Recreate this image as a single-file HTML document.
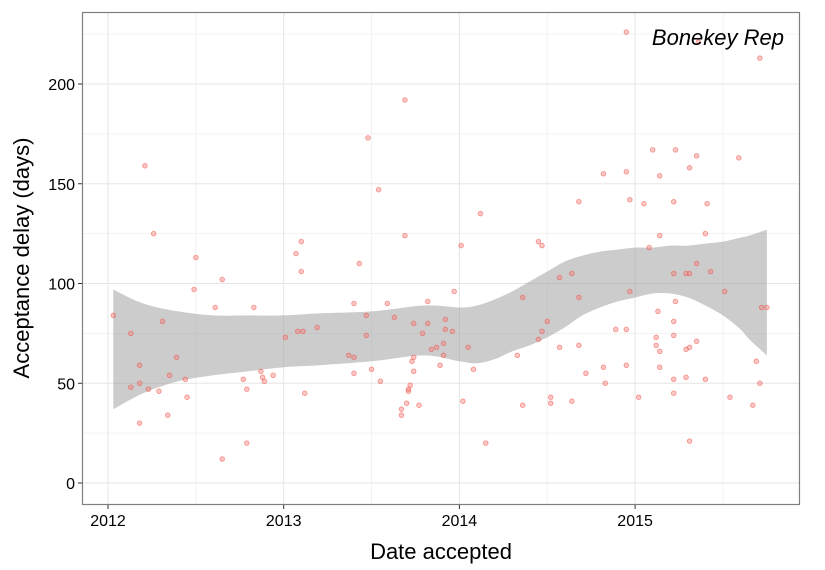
<!DOCTYPE html>
<html><head><meta charset="utf-8"><style>
body{margin:0;background:#fff;width:825px;height:570px;overflow:hidden}
svg{display:block;font-family:"Liberation Sans",sans-serif}
</style></head><body>
<svg id="chart" width="825" height="570"></svg>
<script>
const xTicks=[2012,2013,2014,2015];
const yTicks=[0,50,100,150,200];
const ptYear=[2012.03,2012.13,2012.13,2012.18,2012.18,2012.18,2012.21,2012.23,2012.26,2012.29,2012.31,2012.35,2012.39,2012.34,2012.44,2012.45,2012.50,2012.49,2012.61,2012.65,2012.65,2012.77,2012.79,2012.79,2012.83,2012.87,2012.88,2012.89,2012.94,2013.01,2013.08,2013.07,2013.10,2013.10,2013.11,2013.19,2013.12,2013.37,2013.40,2013.40,2013.40,2013.43,2013.47,2013.47,2013.48,2013.50,2013.54,2013.55,2013.59,2013.63,2013.67,2013.67,2013.69,2013.69,2013.70,2013.73,2013.71,2013.71,2013.72,2013.74,2013.74,2013.74,2013.77,2013.79,2013.82,2013.82,2013.84,2013.87,2013.89,2013.91,2013.91,2013.92,2013.92,2013.96,2013.97,2014.01,2014.05,2014.08,2014.02,2014.12,2014.15,2014.33,2014.36,2014.36,2014.45,2014.47,2014.45,2014.47,2014.50,2014.52,2014.52,2014.57,2014.57,2014.64,2014.64,2014.68,2014.68,2014.68,2014.72,2014.82,2014.82,2014.83,2014.89,2014.95,2014.95,2014.95,2014.95,2014.97,2014.97,2015.02,2015.05,2015.08,2015.10,2015.12,2015.13,2015.12,2015.14,2015.14,2015.14,2015.14,2015.22,2015.22,2015.22,2015.22,2015.22,2015.22,2015.23,2015.23,2015.29,2015.31,2015.29,2015.31,2015.29,2015.31,2015.31,2015.35,2015.35,2015.35,2015.40,2015.40,2015.41,2015.43,2015.51,2015.54,2015.59,2015.67,2015.69,2015.71,2015.71,2015.72,2015.75,2015.36];
const ptDays=[84,75,48,59,50,30,159,47,125,46,81,54,63,34,52,43,113,97,88,102,12,52,47,20,88,56,53,51,54,73,76,115,121,106,76,78,45,64,63,55,90,110,74,84,173,57,147,51,90,83,37,34,124,192,40,61,47,46,49,56,80,63,39,75,91,80,67,68,59,64,70,77,82,76,96,119,68,57,41,135,20,64,93,39,121,119,72,76,81,43,40,103,68,105,41,93,69,141,55,155,58,50,77,226,156,77,59,142,96,43,140,118,167,69,86,73,154,124,66,58,141,105,81,74,52,45,167,91,105,105,67,68,53,158,21,164,110,71,125,52,140,106,96,43,163,39,61,213,50,88,88,221];
const bandYear=[2012.03,2012.2,2012.4,2012.6,2012.8,2013.0,2013.2,2013.5,2013.8,2014.0,2014.1,2014.2,2014.3,2014.4,2014.5,2014.6,2014.7,2014.8,2014.9,2015.0,2015.1,2015.2,2015.3,2015.4,2015.5,2015.6,2015.65,2015.75];
const bandUpper=[97,90,86,84,84,84,85,86,89,88,89,92,96,101,106,111,114,116,117,118,118,119,119,120,121,123,124,127];
const bandLower=[37,45,51,54,56,58,59,61,64,61,60,62,66,69,73,78,84,88,91,93,95,95,93,89,84,77,72,64];
const L=82,R=800,T=12,B=505;
const X=v=>108+(v-2012)*175.7;
const Y=v=>483-v*1.995;
const svg=document.getElementById('chart');
const NS='http://www.w3.org/2000/svg';
function mk(tag,attrs,parent){const e=document.createElementNS(NS,tag);for(const k in attrs)e.setAttribute(k,attrs[k]);(parent||svg).appendChild(e);return e;}
function smooth(p,start){
 let s=start?('M'+p[0][0]+','+p[0][1]):('L'+p[0][0]+','+p[0][1]);
 for(let i=0;i<p.length-1;i++){
  const p0=p[Math.max(0,i-1)],p1=p[i],p2=p[i+1],p3=p[Math.min(p.length-1,i+2)];
  const c1x=p1[0]+(p2[0]-p0[0])/6,c1y=p1[1]+(p2[1]-p0[1])/6;
  const c2x=p2[0]-(p3[0]-p1[0])/6,c2y=p2[1]-(p3[1]-p1[1])/6;
  s+='C'+c1x+','+c1y+' '+c2x+','+c2y+' '+p2[0]+','+p2[1];
 }
 return s;
}
const grid=mk('g',{});


[25,75,125,175,225].forEach(v=>mk('line',{x1:L,x2:R,y1:Y(v),y2:Y(v),stroke:'#f2f2f2','stroke-width':1},grid));
[2012.5,2013.5,2014.5,2015.5].forEach(v=>mk('line',{x1:X(v),x2:X(v),y1:T,y2:B,stroke:'#f2f2f2','stroke-width':1},grid));
yTicks.forEach(v=>mk('line',{x1:L,x2:R,y1:Y(v),y2:Y(v),stroke:'#e5e5e5','stroke-width':1},grid));
xTicks.forEach(v=>mk('line',{x1:X(v),x2:X(v),y1:T,y2:B,stroke:'#e5e5e5','stroke-width':1},grid));
const up=bandYear.map((v,i)=>[X(v),Y(bandUpper[i])]);
const lo=bandYear.map((v,i)=>[X(v),Y(bandLower[i])]).reverse();
const band=mk('path',{d:smooth(up,true)+smooth(lo,false)+'Z',fill:'#999','fill-opacity':0.5});


const pts=mk('g',{});


ptYear.forEach((v,i)=>{
 const c=mk('circle',{cx:X(v),cy:Y(ptDays[i]),r:2.3,fill:'#f8766d','fill-opacity':0.4,stroke:'#f0504a','stroke-opacity':0.55,'stroke-width':0.9},pts);
 
 
});
const fr=mk('rect',{x:L+0.5,y:T+0.5,width:R-L-1,height:B-T-1,fill:'none',stroke:'#7f7f7f','stroke-width':1.2});


const ax=mk('g',{});


yTicks.forEach(v=>{
 mk('line',{x1:L-4,x2:L,y1:Y(v),y2:Y(v),stroke:'#333'},ax);
 const t=mk('text',{x:L-7,y:Y(v)+6,'text-anchor':'end','font-size':16,fill:'#000'},ax);t.textContent=v;
 
 
});
const xa=mk('g',{});


xTicks.forEach(v=>{
 mk('line',{x1:X(v),x2:X(v),y1:B,y2:B+4,stroke:'#333'},xa);
 const t=mk('text',{x:X(v),y:B+21,'text-anchor':'middle','font-size':16,fill:'#000'},xa);t.textContent=v;
 
 
});
const xt=mk('text',{x:441,y:559,'text-anchor':'middle','font-size':22,fill:'#000'});xt.textContent='Date accepted';


const yt=mk('text',{x:0,y:0,transform:'translate(29,258) rotate(-90)','text-anchor':'middle','font-size':22,fill:'#000'});yt.textContent='Acceptance delay (days)';


const lb=mk('text',{x:784,y:45,'text-anchor':'end','font-size':22,'font-style':'italic',fill:'#000'});lb.textContent='Bonekey Rep';


</script>
</body></html>
